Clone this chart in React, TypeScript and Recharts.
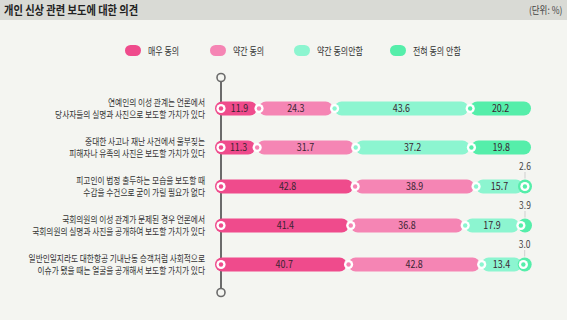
import { BarChart, Bar, XAxis, YAxis, ReferenceLine, LabelList } from 'recharts';

// 항목 (두 줄 라벨)
const QUESTIONS = [
    '연예인의 이성 관계는 언론에서\n당사자들의 실명과 사진으로 보도할 가치가 있다',
    '중대한 사고나 재난 사건에서 울부짖는\n피해자나 유족의 사진은 보도할 가치가 있다',
    '피고인이 법정 출두하는 모습을 보도할 때\n수갑을 수건으로 굳이 가릴 필요가 없다',
    '국회의원의 이성 관계가 문제된 경우 언론에서\n국회의원의 실명과 사진을 공개하여 보도할 가치가 있다',
    '일반인일지라도 대한항공 기내난동 승객처럼 사회적으로\n이슈가 됐을 때는 얼굴을 공개해서 보도할 가치가 있다',
];

const STRONGLY_AGREE = [11.9, 11.3, 42.8, 41.4, 40.7];
const SOMEWHAT_AGREE = [24.3, 31.7, 38.9, 36.8, 42.8];
const SOMEWHAT_DISAGREE = [43.6, 37.2, 15.7, 17.9, 13.4];
const STRONGLY_DISAGREE = [20.2, 19.8, 2.6, 3.9, 3.0];

const SERIES = [
    { key: 'a', name: '매우 동의', values: STRONGLY_AGREE, color: '#ef4b8c' },
    { key: 'b', name: '약간 동의', values: SOMEWHAT_AGREE, color: '#f585b4' },
    { key: 'c', name: '약간 동의안함', values: SOMEWHAT_DISAGREE, color: '#8cf5d0' },
    { key: 'd', name: '전혀 동의 안함', values: STRONGLY_DISAGREE, color: '#55eeaa' },
];

const data = QUESTIONS.map((q, i) => {
    const row: any = { name: q };
    SERIES.forEach(s => { row[s.key] = s.values[i]; });
    return row;
});

const FONT = '"Noto Sans CJK KR", "Noto Sans", sans-serif';

// squeeze svg text horizontally around x = cx
const squeeze = (cx: number, k: number) => `matrix(${k},0,0,1,${cx * (1 - k)},0)`;

const makeShape = (color: string, first: boolean) => (props: any) => {
    const { x, y, width, height } = props;
    const r = height / 2;
    const cy = y + r;
    let left = first ? x - 6 : x + 1;
    let w = x + width - 1 - left;
    if (w < height) {
        left = x + width - height;
        w = height;
    }
    const dx = x + (first ? 0 : 1);
    return (
        <g>
            <rect x={left} y={y} width={w} height={height} rx={r} ry={r} fill={color} />
            <circle cx={dx} cy={cy} r={4.6} fill="#ffffff" />
            <circle cx={dx} cy={cy} r={2.2} fill={color} />
        </g>
    );
};

const renderLabel = (props: any) => {
    const { x, y, width, height, value } = props;
    if (value < 5) {
        const cx = x + width - height / 2;
        return (
            <g>
                <line x1={cx} y1={y - 1} x2={cx} y2={y - 7.5} stroke="#cfcfcf" strokeWidth={1} />
                <text x={cx} y={y - 9} textAnchor="middle" fontSize={10} fill="#444" fontFamily={FONT} transform={squeeze(cx, 0.85)}>
                    {value.toFixed(1)}
                </text>
            </g>
        );
    }
    const cx = x + width / 2;
    return (
        <text x={cx} y={y + height / 2} dy={3.8} textAnchor="middle" fontSize={10.5} fill="#3a2432" fontFamily={FONT} transform={squeeze(cx, 0.85)}>
            {value.toFixed(1)}
        </text>
    );
};

const QuestionTick = (props: any) => {
    const { y, payload } = props;
    const lines = String(payload.value).split('\n');
    return (
        <text x={205} y={y} textAnchor="end" fontSize={9.5} fill="#333" fontFamily={FONT} transform={squeeze(205, 0.81)}>
            {lines.map((l, i) => (
                <tspan key={i} x={205} dy={i === 0 ? -2 : 12}>{l}</tspan>
            ))}
        </text>
    );
};

const AxisLine = (props: any) => {
    const { x1, y1, y2 } = props;
    const top = Math.min(y1, y2);
    const bottom = Math.max(y1, y2);
    return (
        <g>
            <line x1={x1} y1={top - 7} x2={x1} y2={bottom + 5} stroke="#6b6b6b" strokeWidth={2} />
            <circle cx={x1} cy={top - 11} r={4} fill="#f4f5f1" stroke="#6b6b6b" strokeWidth={1.6} />
            <circle cx={x1} cy={bottom + 9} r={4} fill="#f4f5f1" stroke="#6b6b6b" strokeWidth={1.6} />
        </g>
    );
};

const LEGEND_LEFT = [125, 210, 294, 390];

export default function App() {
    return (
        <div style={{ position: 'absolute', left: 0, top: 0, width: 567, height: 320, background: '#f4f5f1', fontFamily: FONT, overflow: 'hidden' }}>
            <div style={{ height: 20, background: '#d9dad5', position: 'relative' }}>
                <span style={{ position: 'absolute', left: 4, top: 2, fontSize: 12.5, fontWeight: 700, color: '#222', transform: 'scaleX(0.82)', transformOrigin: 'left center', whiteSpace: 'nowrap', lineHeight: '16px' }}>
                    개인 신상 관련 보도에 대한 의견
                </span>
                <span style={{ position: 'absolute', right: 5, top: 3, fontSize: 10, color: '#444', transform: 'scaleX(0.85)', transformOrigin: 'right center', whiteSpace: 'nowrap', lineHeight: '14px' }}>
                    (단위: %)
                </span>
            </div>
            {SERIES.map((s, i) => (
                <div key={s.key} style={{ position: 'absolute', top: 43, left: LEGEND_LEFT[i], display: 'flex', alignItems: 'center' }}>
                    <span style={{ width: 16, height: 11, borderRadius: 6, background: s.color, display: 'inline-block', marginRight: 7 }} />
                    <span style={{ fontSize: 10, color: '#333', display: 'inline-block', transform: 'scaleX(0.8)', transformOrigin: 'left center', whiteSpace: 'nowrap' }}>{s.name}</span>
                </div>
            ))}
            <div style={{ position: 'absolute', left: 0, top: 0 }}>
                <BarChart width={567} height={320} data={data} layout="vertical" barSize={14}
                    margin={{ top: 88.5, right: 35, bottom: 36.5, left: 0 }}>
                    <XAxis type="number" domain={[0, 100]} hide />
                    <YAxis type="category" dataKey="name" width={221} axisLine={false} tickLine={false} tick={<QuestionTick />} interval={0} />
                    <ReferenceLine x={0} shape={<AxisLine />} ifOverflow="visible" {...({ zIndex: 250 } as any)} />
                    {SERIES.map((s, i) => (
                        <Bar key={s.key} dataKey={s.key} name={s.name} stackId="1" isAnimationActive={false}
                            shape={makeShape(s.color, i === 0)}>
                            <LabelList dataKey={s.key} content={renderLabel} />
                        </Bar>
                    ))}
                </BarChart>
            </div>
        </div>
    );
}
